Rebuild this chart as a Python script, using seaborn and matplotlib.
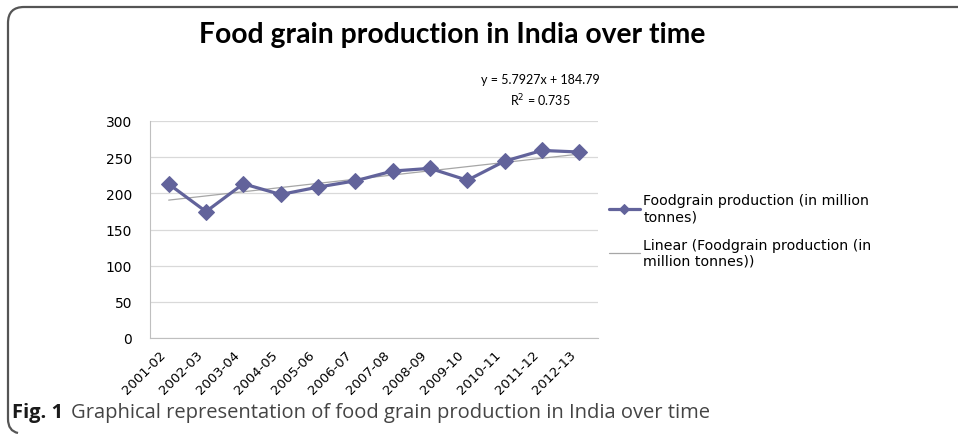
import matplotlib

matplotlib.use("Agg")

import matplotlib.pyplot as plt
import matplotlib.transforms as mtransforms
from matplotlib.path import Path
from matplotlib.patches import PathPatch
import numpy as np
import seaborn as sns

seasons = [
    "2001-02", "2002-03", "2003-04", "2004-05", "2005-06", "2006-07",
    "2007-08", "2008-09", "2009-10", "2010-11", "2011-12", "2012-13",
]
production = [212.9, 174.8, 213.2, 198.4, 208.6, 217.3, 230.8, 234.5, 218.1, 244.5, 259.3, 257.1]
y_ticks = [0, 50, 100, 150, 200, 250, 300]

LINE_COLOR = "#62639b"
W, H = 958, 435


def fx(px):
    return px / W


def fy(py):
    return 1 - py / H


sns.set_style("white")
plt.rcParams["font.family"] = ["DejaVu Sans"]
plt.rcParams["text.color"] = "black"

fig = plt.figure(figsize=(W / 100, H / 100), dpi=100)
ax = fig.add_axes([fx(150), fy(339), fx(598) - fx(150), fy(122) - fy(339)])

x = np.arange(len(seasons))
sns.lineplot(
    x=x, y=production, ax=ax, color=LINE_COLOR, linewidth=2.3,
    marker="D", markersize=8.5, markeredgecolor=LINE_COLOR,
    label="Foodgrain production (in million\ntonnes)",
)
sns.regplot(
    x=x, y=np.array(production), ax=ax, scatter=False, ci=None,
    line_kws={"color": "#a6a6a6", "linewidth": 0.9, "zorder": 1},
    label="Linear (Foodgrain production (in\nmillion tonnes))",
)

ax.set_xlim(-0.5, len(seasons) - 0.5)
ax.set_ylim(0, 300)
ax.set_yticks(y_ticks)
ax.yaxis.grid(True, color="#d9d9d9", linewidth=0.9)
ax.set_axisbelow(True)
for side in ["top", "right"]:
    ax.spines[side].set_visible(False)
ax.spines["left"].set_color("#bfbfbf")
ax.spines["bottom"].set_color("#bfbfbf")
ax.tick_params(axis="y", length=4, color="#bfbfbf", labelsize=10, pad=9, labelcolor="black")

ax.set_xticks(x)
ax.set_xticklabels(seasons, rotation=45, ha="right", rotation_mode="anchor", fontsize=9.5,
                   color="black")
ax.set_xticks(np.arange(-0.5, len(seasons)), minor=True)
ax.tick_params(axis="x", which="major", length=0, pad=7)
ax.tick_params(axis="x", which="minor", length=4, color="#bfbfbf", direction="out")
shift = mtransforms.ScaledTranslation(-10 / 100, 0, fig.dpi_scale_trans)
for lbl in ax.get_xticklabels():
    lbl.set_transform(lbl.get_transform() + shift)
ax.set_xlabel("")
ax.set_ylabel("")

handles, labels = ax.get_legend_handles_labels()
ax.legend(
    handles, labels, loc="upper left", bbox_to_anchor=(0.995, 0.725), frameon=False,
    fontsize=10.2, handlelength=2.2, handletextpad=0.25, labelspacing=1.0,
    markerscale=0.55,
)

fig.text(fx(452), fy(35), "Food grain production in India over time",
         ha="center", va="center", fontsize=20.3, fontweight="bold", family="Lato",
         color="black")
fig.text(fx(540), fy(80), "y = 5.7927x + 184.79", ha="center", va="center",
         fontsize=9, family="Lato", color="black")
fig.text(fx(540), fy(101), "R$^2$ = 0.735", ha="center", va="center",
         fontsize=9, family="Lato", color="black")

fig.text(fx(12), fy(413), "Fig. 1", ha="left", va="center", fontsize=14.5,
         fontweight="bold", family="Open Sans", color="#1a1a1a")
fig.text(fx(71), fy(413), "Graphical representation of food grain production in India over time",
         ha="left", va="center", fontsize=14.5, family="Open Sans", color="#444444")

verts = [
    (fx(960), fy(8)), (fx(24), fy(8)),
    (fx(8), fy(8)), (fx(8), fy(24)),
    (fx(8), fy(420)),
    (fx(8), fy(432)), (fx(18), fy(434)),
]
codes = [Path.MOVETO, Path.LINETO, Path.CURVE3, Path.CURVE3, Path.LINETO, Path.CURVE3, Path.CURVE3]
fig.add_artist(PathPatch(Path(verts, codes), transform=fig.transFigure,
                         facecolor="none", edgecolor="#555555", linewidth=1.6))

fig.savefig("out.png", dpi=100)
